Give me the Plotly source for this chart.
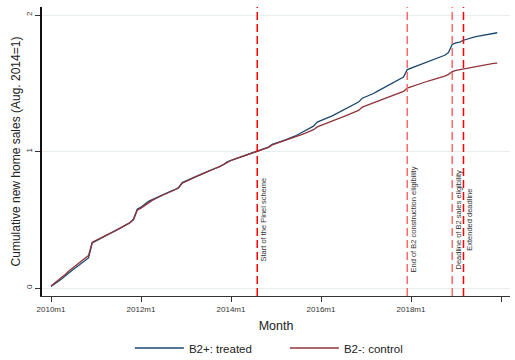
import plotly.graph_objects as go

# Monthly categories 2010m1 .. 2019m12
months = [f"{y}m{m}" for y in range(2010, 2020) for m in range(1, 13)]

treated = [
    0.012, 0.030, 0.050, 0.070, 0.093, 0.118, 0.138, 0.158, 0.178, 0.198, 0.220, 0.330,
    0.345, 0.360, 0.375, 0.390, 0.400, 0.415, 0.430, 0.445, 0.460, 0.477, 0.505, 0.578,
    0.592, 0.612, 0.635, 0.647, 0.660, 0.675, 0.686, 0.697, 0.710, 0.720, 0.735, 0.772,
    0.785, 0.796, 0.810, 0.820, 0.832, 0.845, 0.856, 0.866, 0.880, 0.890, 0.905, 0.925,
    0.935, 0.945, 0.955, 0.965, 0.975, 0.985, 0.993, 1.000, 1.010, 1.020, 1.032, 1.052,
    1.060, 1.070, 1.080, 1.090, 1.100, 1.112, 1.126, 1.140, 1.155, 1.170, 1.186, 1.215,
    1.225, 1.236, 1.250, 1.261, 1.275, 1.286, 1.300, 1.315, 1.330, 1.345, 1.362, 1.390,
    1.400, 1.411, 1.425, 1.440, 1.455, 1.470, 1.485, 1.498, 1.510, 1.525, 1.545, 1.600,
    1.610, 1.620, 1.634, 1.645, 1.655, 1.665, 1.675, 1.685, 1.695, 1.705, 1.725, 1.785,
    1.795, 1.802, 1.815, 1.825, 1.834, 1.840, 1.845, 1.850, 1.855, 1.860, 1.865, 1.870,
]

control = [
    0.015, 0.036, 0.058, 0.080, 0.104, 0.130, 0.152, 0.175, 0.195, 0.215, 0.238, 0.335,
    0.347, 0.362, 0.376, 0.391, 0.402, 0.416, 0.431, 0.446, 0.461, 0.478, 0.500, 0.570,
    0.585, 0.605, 0.628, 0.642, 0.656, 0.671, 0.683, 0.694, 0.707, 0.718, 0.732, 0.768,
    0.782, 0.794, 0.808, 0.819, 0.831, 0.844, 0.855, 0.865, 0.879, 0.889, 0.904, 0.923,
    0.934, 0.944, 0.954, 0.964, 0.975, 0.985, 0.993, 1.000, 1.010, 1.020, 1.030, 1.048,
    1.057, 1.066, 1.075, 1.084, 1.094, 1.103, 1.114, 1.125, 1.136, 1.148, 1.160, 1.180,
    1.190, 1.200, 1.210, 1.220, 1.232, 1.243, 1.255, 1.267, 1.279, 1.290, 1.301, 1.325,
    1.335, 1.345, 1.355, 1.365, 1.375, 1.385, 1.395, 1.405, 1.415, 1.426, 1.440, 1.465,
    1.475, 1.485, 1.495, 1.503, 1.511, 1.519, 1.527, 1.535, 1.543, 1.552, 1.565, 1.585,
    1.595, 1.600, 1.608, 1.614, 1.620, 1.625, 1.630, 1.634, 1.638, 1.642, 1.645, 1.648,
]

tick_labels = ["2010m1", "2012m1", "2014m1", "2016m1", "2018m1", "2020m1"]
event_months = ["2014m8", "2017m12", "2018m12", "2019m3"]
event_labels = [
    "Start of the Pinel scheme",
    "End of B2 construction eligibility",
    "Deadline of B2 sales eligibility",
    "Extended deadline",
]
event_colors = ["#ff0000", "#ff6b6b", "#ff6b6b", "#ff0000"]


def month_index(label):
    y, m = label.split("m")
    return (int(y) - 2010) * 12 + int(m) - 1


x = [month_index(m) for m in months]
FONT = "Liberation Sans, Arial, sans-serif"

fig = go.Figure()
fig.add_trace(go.Scatter(x=x, y=treated, mode="lines", name="B2+: treated",
                         line=dict(color="#1a476f", width=1.3)))
fig.add_trace(go.Scatter(x=x, y=control, mode="lines", name="B2-: control",
                         line=dict(color="#90353b", width=1.3)))

for lab, txt, col in zip(event_months, event_labels, event_colors):
    xi = month_index(lab)
    fig.add_shape(type="line", xref="x", yref="paper", x0=xi, x1=xi, y0=0, y1=1,
                  line=dict(color=col, width=1.5, dash="8px,4px"), layer="above")
    fig.add_annotation(x=xi, y=0.5, xref="x", yref="y", text=txt, textangle=-90,
                       showarrow=False, xanchor="left", yanchor="middle", xshift=0,
                       font=dict(size=7.5, color="#333333", family=FONT))

fig.update_layout(
    width=515, height=360,
    margin=dict(l=42, r=5, t=7, b=64, autoexpand=False),
    paper_bgcolor="white", plot_bgcolor="white",
    font=dict(family=FONT, color="#222222"),
    showlegend=True,
    legend=dict(orientation="h", x=0.519, xanchor="center",
                yref="container", y=1 - 348 / 360, yanchor="middle",
                font=dict(size=11.5, color="#222222"), traceorder="normal",
                entrywidth=91, itemwidth=49),
)
fig.update_xaxes(
    range=[-2.4, 122.4],
    tickvals=[month_index(t) for t in tick_labels], ticktext=tick_labels,
    ticks="outside", ticklen=5, tickcolor="#333333",
    tickfont=dict(size=8, color="#333333"),
    showline=True, linecolor="#333333", linewidth=1.2,
    showgrid=False, zeroline=False, automargin=False,
    title=dict(text="Month", font=dict(size=12.5, color="#222222"), standoff=8),
)
fig.update_yaxes(
    range=[-0.0586, 2.0586],
    tickvals=[0, 1, 2], ticktext=["0", "1", "2"], tickangle=-90,
    ticks="outside", ticklen=5, tickcolor="#333333",
    tickfont=dict(size=8, color="#333333"),
    showline=True, linecolor="#111111", linewidth=1.5,
    showgrid=True, gridcolor="#e6eef0", gridwidth=1, zeroline=False, automargin=False,
    title=dict(text="Cumulative new home sales (Aug. 2014=1)",
               font=dict(size=12, color="#222222"), standoff=2),
)

fig.write_html("out.html")
